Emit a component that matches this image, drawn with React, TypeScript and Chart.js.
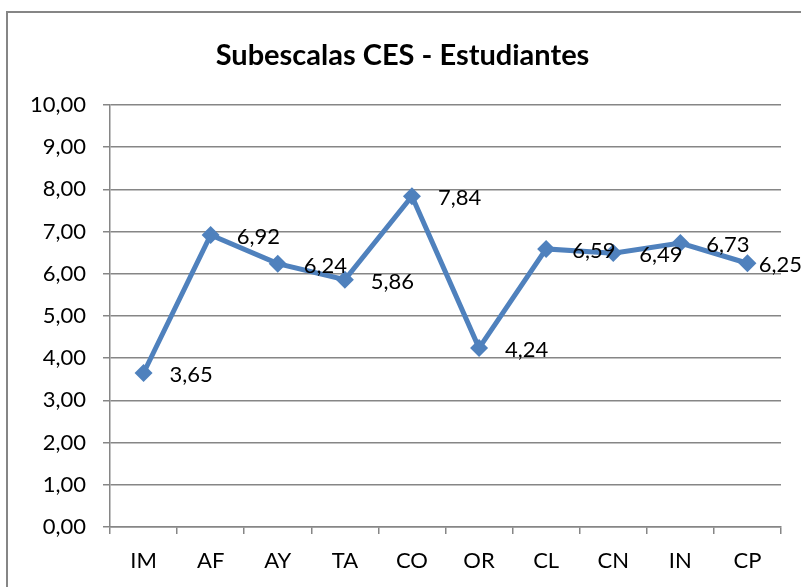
import React, { useEffect, useRef } from "react";
import { Chart, registerables } from "chart.js";

Chart.register(...registerables);

const TITLE = "Subescalas CES - Estudiantes";
const CATEGORIES = ["IM", "AF", "AY", "TA", "CO", "OR", "CL", "CN", "IN", "CP"];
const VALUES = [3.65, 6.92, 6.24, 5.86, 7.84, 4.24, 6.59, 6.49, 6.73, 6.25];
const Y_MIN = 0;
const Y_MAX = 10;
const Y_STEP = 1;

const FONT = "Lato, 'Open Sans', 'Liberation Sans', sans-serif";
const fmt = (v: number) => v.toFixed(2).replace(".", ",");

const framePlugin = {
  id: "frame",
  beforeDraw(chart: any) {
    const ctx = chart.ctx;
    ctx.save();
    ctx.fillStyle = "#ffffff";
    ctx.fillRect(0, 0, chart.width, chart.height);
    ctx.strokeStyle = "#868686";
    ctx.lineWidth = 2;
    ctx.strokeRect(7, 12, chart.width + 20, chart.height + 20);
    ctx.restore();
  },
};

const labelPlugin = {
  id: "valueLabels",
  afterDatasetsDraw(chart: any) {
    const ctx = chart.ctx;
    const meta = chart.getDatasetMeta(0);
    ctx.save();
    ctx.font = `22px ${FONT}`;
    ctx.fillStyle = "#000000";
    ctx.textAlign = "left";
    ctx.textBaseline = "middle";
    meta.data.forEach((pt: any, i: number) => {
      const text = fmt(VALUES[i]);
      const w = ctx.measureText(text).width;
      const x = Math.min(pt.x + 26, chart.width + 1 - w);
      ctx.fillText(text, x, pt.y + 2);
    });
    ctx.restore();
  },
};

export default function App() {
  const ref = useRef<HTMLCanvasElement | null>(null);
  useEffect(() => {
    document.body.style.margin = "0";
    const chart = new Chart(ref.current as HTMLCanvasElement, {
      type: "line",
      data: {
        labels: CATEGORIES,
        datasets: [
          {
            data: VALUES,
            borderColor: "#4F81BD",
            backgroundColor: "#4F81BD",
            borderWidth: 5,
            pointStyle: "rectRot",
            pointRadius: 9,
            pointHoverRadius: 9,
            pointBorderWidth: 0,
            tension: 0,
          },
        ],
      },
      options: {
        animation: false,
        responsive: false,
        maintainAspectRatio: false,
        layout: { padding: { left: 24, right: 20, top: 0, bottom: 0 } },
        plugins: {
          legend: { display: false },
          tooltip: { enabled: false },
          title: {
            display: true,
            text: TITLE,
            color: "#000000",
            font: { family: FONT, size: 29, weight: "bold", lineHeight: 1.2 },
            padding: { top: 38, bottom: 32.2 },
          },
        },
        scales: {
          x: {
            offset: true,
            afterFit: (s: any) => {
              s.height = 60;
            },
            grid: {
              display: true,
              offset: true,
              drawOnChartArea: false,
              drawTicks: true,
              tickLength: 7,
              color: "#868686",
              lineWidth: 1.5,
            },
            border: { display: true, color: "#868686", width: 1.5 },
            ticks: {
              color: "#000000",
              font: { family: FONT, size: 22 },
              padding: 14,
              maxRotation: 0,
            },
          },
          y: {
            min: Y_MIN,
            max: Y_MAX,
            afterFit: (s: any) => {
              s.width = 86;
            },
            grid: {
              color: "#868686",
              lineWidth: 1.5,
              drawTicks: true,
              tickLength: 7,
            },
            border: { display: true, color: "#868686", width: 1.5 },
            ticks: {
              stepSize: Y_STEP,
              color: "#000000",
              font: { family: FONT, size: 22 },
              padding: 17,
              callback: (v: any) => fmt(Number(v)),
            },
          },
        },
      },
      plugins: [framePlugin, labelPlugin],
    });
    return () => chart.destroy();
  }, []);
  return (
    <div style={{ position: "absolute", left: 0, top: 0, width: 801, height: 587 }}>
      <canvas ref={ref} width={801} height={587} style={{ width: 801, height: 587 }} />
    </div>
  );
}
